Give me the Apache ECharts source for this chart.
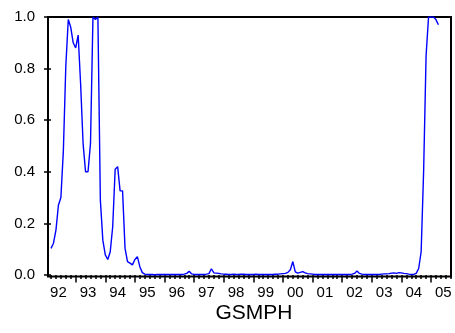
<!DOCTYPE html>
<html>
<head>
<meta charset="utf-8">
<script src="https://cdn.jsdelivr.net/npm/echarts@6/dist/echarts.min.js"></script>
<style>
html,body{margin:0;padding:0;background:#ffffff;}
#c{width:455px;height:333px;}
</style>
</head>
<body>
<div id="c"></div>
<script>
// Monthly observations of GSMPH (first obs = Mar 1992)
const y1992 = [0.103,0.123,0.174,0.27,0.30,0.48,0.81,0.99,0.96,0.90];
const y1993 = [0.88,0.93,0.74,0.51,0.40,0.40,0.51,1.0,0.99,1.0,0.29,0.135];
const y1994 = [0.078,0.06,0.09,0.187,0.41,0.42,0.326,0.326,0.103,0.052,0.046,0.039];
const y1995 = [0.06,0.071,0.032,0.009,0.003,0.002,0.002,0.002,0.001,0.002,0.002,0.002];
const y1996 = [0.002,0.002,0.002,0.002,0.002,0.002,0.002,0.002,0.003,0.006,0.014,0.004];
const y1997 = [0.002,0.002,0.002,0.002,0.002,0.003,0.005,0.024,0.008,0.007,0.006,0.004];
const y1998 = [0.003,0.003,0.002,0.002,0.003,0.002,0.002,0.003,0.003,0.002,0.002,0.002];
const y1999 = [0.002,0.003,0.002,0.002,0.002,0.002,0.002,0.002,0.002,0.003,0.003,0.004];
const y2000 = [0.005,0.006,0.010,0.020,0.052,0.012,0.007,0.010,0.013,0.008,0.005,0.004];
const y2001 = [0.003,0.002,0.002,0.002,0.002,0.002,0.002,0.002,0.002,0.002,0.002,0.002];
const y2002 = [0.002,0.002,0.002,0.002,0.003,0.006,0.015,0.006,0.003,0.002,0.002,0.002];
const y2003 = [0.002,0.002,0.002,0.002,0.003,0.004,0.004,0.005,0.007,0.008,0.006,0.009];
const y2004 = [0.008,0.006,0.005,0.003,0.002,0.002,0.006,0.025,0.09,0.40,0.85,1.0];
const y2005 = [1.0,1.0,0.99,0.97];

const yearLabels = ['92','93','94','95','96','97','98','99','00','01','02','03','04','05'];
const yTicks = [0,0.2,0.4,0.6,0.8,1.0];

const values = [].concat(y1992,y1993,y1994,y1995,y1996,y1997,y1998,y1999,y2000,y2001,y2002,y2003,y2004,y2005);
const seriesData = values.map((v,i)=>[i,v]);

// label positions (mid-year), year boundary ticks, minor ticks (observation index)
const labelPos = yearLabels.map((_,k)=>3 + 12*k);
const yearTickPos = []; for (let k=0;k<14;k++) yearTickPos.push(10 + 12*k);
const minorTickPos = []; for (let i=0;i<=162;i+=2) minorTickPos.push(i);

const XMIN = -1.22, XMAX = 162.1;
const font = "Arial, 'Liberation Sans', sans-serif";

const chart = echarts.init(document.getElementById('c'), null, {renderer:'canvas'});
chart.setOption({
  animation:false,
  backgroundColor:'#ffffff',
  grid:{left:48,right:4,top:17,bottom:56.5,show:true,borderColor:'#000',borderWidth:2,containLabel:false},
  xAxis:[{
    type:'value',min:XMIN,max:XMAX,position:'bottom',
    axisLine:{show:false},
    splitLine:{show:false},
    axisTick:{show:true,customValues:minorTickPos,length:4,lineStyle:{color:'#000',width:1.5}},
    axisLabel:{show:true,customValues:labelPos,margin:9,color:'#000',fontSize:15,fontFamily:font,
      formatter:function(v){const k=Math.round((v-3)/12);return yearLabels[k]||'';}}
  },{
    type:'value',min:XMIN,max:XMAX,position:'bottom',
    axisLine:{show:false},
    splitLine:{show:false},
    axisTick:{show:true,customValues:yearTickPos,length:6,lineStyle:{color:'#000',width:1.5}},
    axisLabel:{show:false}
  }],
  yAxis:{
    type:'value',min:-0.006,max:1,
    axisLine:{show:false},
    splitLine:{show:false},
    axisTick:{show:true,customValues:yTicks,length:7,lineStyle:{color:'#000',width:1.5}},
    axisLabel:{show:true,customValues:yTicks,margin:13,color:'#000',fontSize:15,fontFamily:font,
      verticalAlign:'middle',padding:[0,0,8,0],
      formatter:function(v){return v.toFixed(1);}}
  },
  series:[{
    type:'line',xAxisIndex:0,data:seriesData,showSymbol:false,
    lineStyle:{color:'#0000ff',width:1.4},
    clip:true
  }],
  graphic:[{type:'text',x:254,y:313,style:{text:'GSMPH',font:'21px '+font,fill:'#000',align:'center',verticalAlign:'middle'}}]
});
</script>
</body>
</html>
